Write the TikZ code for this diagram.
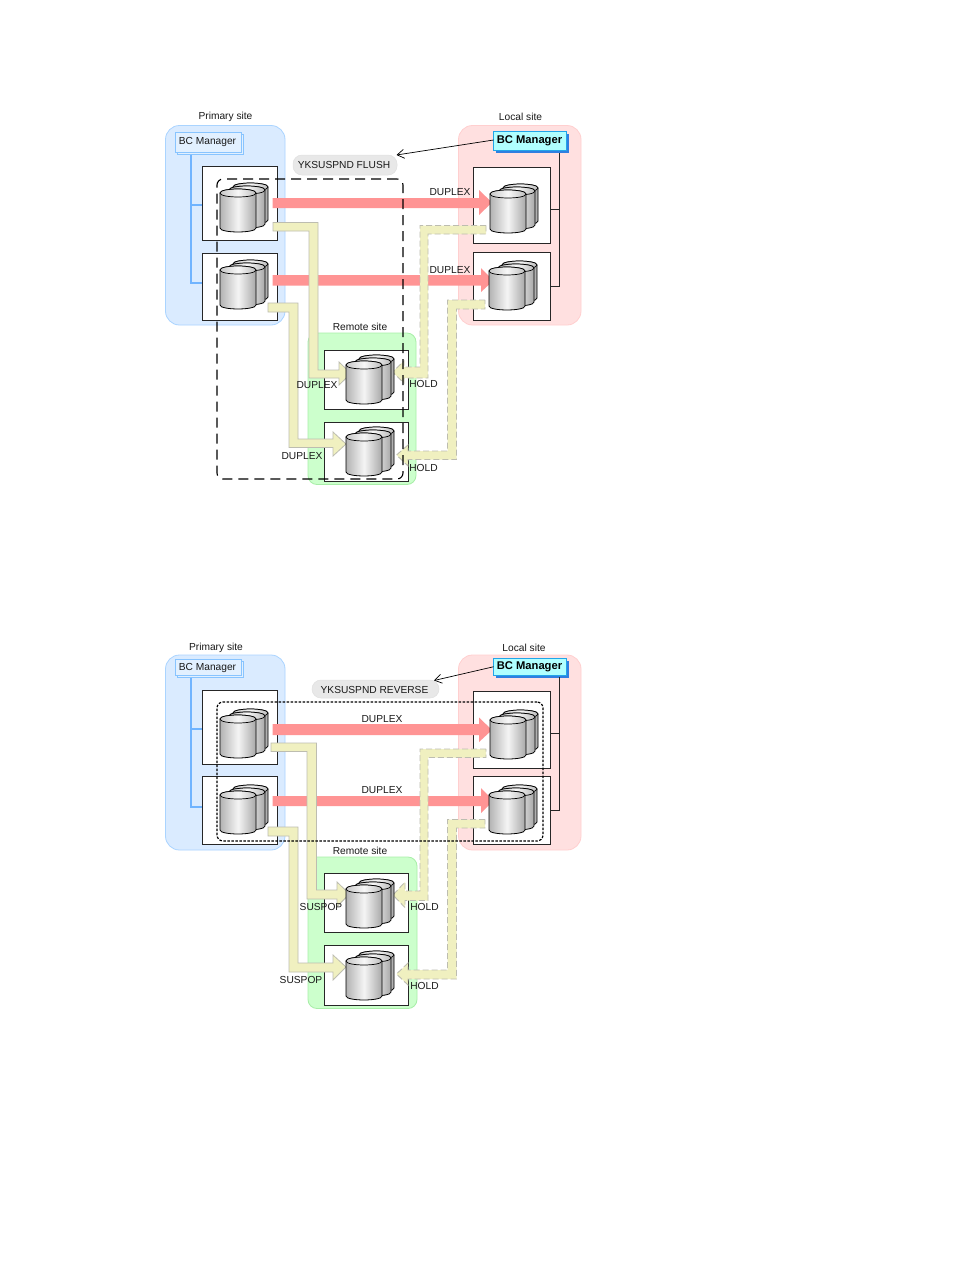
\documentclass[tikz,border=0pt]{standalone}
\usepackage{fontspec}
\setmainfont{Liberation Sans}
\usetikzlibrary{arrows.meta}
\definecolor{bluefill}{HTML}{DAEBFF}
\definecolor{blueedge}{HTML}{AAD4FF}
\definecolor{pinkfill}{HTML}{FFE0E0}
\definecolor{pinkedge}{HTML}{FFCFCF}
\definecolor{greenfill}{HTML}{CCFFCC}
\definecolor{greenedge}{HTML}{A8EEA8}
\definecolor{pinkarrow}{HTML}{FF9494}
\definecolor{yellowfill}{HTML}{F0F0C0}
\definecolor{yellowedge}{HTML}{BDBDB0}
\definecolor{pillfill}{HTML}{E8E8E8}
\definecolor{mgrfill}{HTML}{E2F0FF}
\definecolor{mgredge}{HTML}{88C4FF}
\definecolor{cyanfill}{HTML}{B0FFFF}
\definecolor{cyanshadow}{HTML}{2F7FE0}
\definecolor{bluelinkc}{HTML}{70B4FF}
\tikzset{
  region/.style={draw,line width=.8pt,rounded corners=14pt,inner sep=0pt,outer sep=0pt},
  bluereg/.style={region,fill=bluefill,draw=blueedge},
  pinkreg/.style={region,fill=pinkfill,draw=pinkedge},
  greenreg/.style={region,fill=greenfill,draw=greenedge,rounded corners=9pt},
  hostbox/.style={draw=black!85,fill=white,line width=.9pt,inner sep=0pt,outer sep=0pt},
  flushframe/.style={draw=black,line width=1.1pt,dash pattern=on 10pt off 6pt,rounded corners=6pt,inner sep=0pt,outer sep=0pt},
  reverseframe/.style={draw=black,line width=1.2pt,dash pattern=on 2.5pt off 1.5pt,rounded corners=6pt,inner sep=0pt,outer sep=0pt},
  pillbox/.style={fill=pillfill,draw=black!12,line width=.5pt,rounded corners=9pt,inner sep=0pt,outer sep=0pt},
  mgrbox/.style={fill=mgrfill,draw=mgredge,line width=.9pt,inner sep=0pt,outer sep=0pt},
  mgrshadow/.style={fill=mgrfill,draw=mgredge,line width=.9pt},
  cyanbox/.style={fill=cyanfill,draw=cyanshadow!70!cyan,line width=.9pt,inner sep=0pt,outer sep=0pt},
  cyanback/.style={fill=cyanshadow,draw=none},
  bluelink/.style={draw=bluelinkc,line width=1.3pt},
  blacklink/.style={draw=black!85,line width=.8pt},
  barb/.style={draw=black,line width=.7pt,-{Straight Barb[length=7pt,width=9pt]}},
  pinkflow/.style={fill=pinkarrow,draw=none},
  yellowflow/.style={fill=yellowfill,draw=yellowedge,line width=.8pt},
  yellowdash/.style={fill=yellowfill,draw=yellowedge,line width=.9pt,dash pattern=on 6pt off 3pt},
  lbl/.style={font=\fontsize{10.2pt}{11pt}\selectfont,text=black!90,inner sep=0pt},
  mgrlbl/.style={font=\fontsize{11.2pt}{12pt}\selectfont\bfseries,text=black,inner sep=0pt},
  cylbody/.style={draw=black,line width=.8pt,left color=black!30,right color=black!34,middle color=black!4},
  cyltop/.style={draw=black,line width=.7pt,left color=black!22,right color=black!26,middle color=black!3},
}
% \onecyl{x0}{x1}{top}{bottom}
\newcommand{\onecyl}[4]{%
  \pgfmathsetmacro{\cya}{#3+4}\pgfmathsetmacro{\cyb}{#4-4}%
  \pgfmathsetmacro{\cka}{#3+4-5.3}\pgfmathsetmacro{\ckb}{#3+4+5.3}\pgfmathsetmacro{\ckc}{#4-4+5.3}%
  \path[cylbody] (#1,\cya) -- (#1,\cyb) .. controls (#1,\ckc) and (#2,\ckc) .. (#2,\cyb) -- (#2,\cya) .. controls (#2,\cka) and (#1,\cka) .. (#1,\cya) -- cycle;
  \path[cyltop] (#1,\cya) .. controls (#1,\cka) and (#2,\cka) .. (#2,\cya) .. controls (#2,\ckb) and (#1,\ckb) .. (#1,\cya) -- cycle;
}
% \diskstack{left}{top}
\newcommand{\diskstack}[2]{%
  \pgfmathsetmacro{\sxa}{#1+13}\pgfmathsetmacro{\sxb}{#1+48}\pgfmathsetmacro{\sta}{#2-7}\pgfmathsetmacro{\stb}{#2+34}%
  \edef\dsa{\sxa}\edef\dsb{\sxb}\edef\dsc{\sta}\edef\dsd{\stb}\onecyl{\dsa}{\dsb}{\dsc}{\dsd}%
  \pgfmathsetmacro{\sxc}{#1+9}\pgfmathsetmacro{\sxd}{#1+45}\pgfmathsetmacro{\stc}{#2-4}\pgfmathsetmacro{\std}{#2+38}%
  \edef\dsa{\sxc}\edef\dsb{\sxd}\edef\dsc{\stc}\edef\dsd{\std}\onecyl{\dsa}{\dsb}{\dsc}{\dsd}%
  \pgfmathsetmacro{\sxf}{#1+36}\pgfmathsetmacro{\stf}{#2+42}\pgfmathsetmacro{\stg}{#2-1}%
  \edef\dsb{\sxf}\edef\dsc{\stg}\edef\dsd{\stf}\onecyl{#1}{\dsb}{\dsc}{\dsd}%
}
% \areabox{name}{style}{x0}{y0}{x1}{y1}
\newcommand{\areabox}[6]{%
  \pgfmathsetmacro{\abw}{#5-#3}\pgfmathsetmacro{\abh}{#6-#4}%
  \node[#2,anchor=north west,minimum width=\abw pt,minimum height=\abh pt] (#1) at (#3,#4) {};
}
\begin{document}
\begin{tikzpicture}[x=1pt,y=-1pt]
\useasboundingbox (0,0) rectangle (954,1270);
\fill[white] (0,0) rectangle (954,1270);

% ===== upper diagram: site regions
\areabox{primA}{bluereg}{165.5}{125.5}{285}{325}
\areabox{localA}{pinkreg}{458.5}{125.5}{581}{325}
\areabox{remoteA}{greenreg}{308}{333}{416}{484.5}

% host boxes
\areabox{hostA1}{hostbox}{202}{166}{277}{240}
\areabox{hostA2}{hostbox}{202}{253}{277}{320.5}
\areabox{hostA3}{hostbox}{473.5}{167}{550}{243.5}
\areabox{hostA4}{hostbox}{473.5}{252}{550}{320}
\areabox{hostA5}{hostbox}{324}{350}{408}{409}
\areabox{hostA6}{hostbox}{324}{422}{408}{481.5}

% BC Manager boxes
\path[mgrshadow] (177,134) rectangle (243,154);
\areabox{mgrA}{mgrbox}{175}{132}{241}{152}
\fill[cyanback] (496,134) rectangle (569,153);
\areabox{cmgrA}{cyanbox}{493.5}{131.5}{566}{150.5}

% manager links
\coordinate (ja1) at (191,205);
\coordinate (ja2) at (191,283);
\coordinate (jb1) at (559,209);
\coordinate (jb2) at (559,286);
\draw[bluelink] (191,154.5) -- (ja2) -- (ja2 -| hostA2.west);
\draw[bluelink] (ja1) -- (ja1 -| hostA1.west);
\draw[blacklink] (559,153) -- (jb2) -- (jb2 -| hostA4.east);
\draw[blacklink] (jb1) -- (jb1 -| hostA3.east);

% pill
\areabox{pillA}{pillbox}{293}{155}{397}{175}
\coordinate (pillAtip) at (396.5,155);
\draw[barb] (cmgrA.west) ++(0,-1) -- (pillAtip);

% pink flows
\fill[pinkflow] (272.5,198) -- (479,198) -- (479,190) -- (492,202.5) -- (479,215) -- (479,208) -- (272.5,208) -- cycle;
\fill[pinkflow] (272.5,275) -- (481,275) -- (481,268) -- (493.5,280.5) -- (481,292) -- (481,285.5) -- (272.5,285.5) -- cycle;

% yellow flows
\path[yellowflow] (273,222.5) -- (318,222.5) -- (318,370) -- (339,370) -- (339,362) -- (351,373.5) -- (339,385) -- (339,378) -- (309,378) -- (309,231) -- (273,231) -- cycle;
\path[yellowflow] (268,303) -- (298,303) -- (298,439) -- (333,439) -- (333,432) -- (346,444) -- (333,456) -- (333,447.5) -- (289,447.5) -- (289,312) -- (268,312) -- cycle;
\path[yellowdash] (486,225.5) -- (420,225.5) -- (420,367) -- (404,367) -- (404,361) -- (392.5,372) -- (404,383) -- (404,378) -- (428,378) -- (428,234) -- (486,234) -- cycle;
\path[yellowdash] (485,300) -- (447.5,300) -- (447.5,451) -- (408,451) -- (408,445) -- (396.5,455) -- (408,466) -- (408,459.5) -- (456.5,459.5) -- (456.5,309) -- (485,309) -- cycle;

% disks
\diskstack{220}{190}
\diskstack{220}{267}
\diskstack{490}{191}
\diskstack{489}{268}
\diskstack{346}{362}
\diskstack{346}{434}

% dashed frame
\areabox{frameA}{flushframe}{217}{179}{403}{479}

% texts
\node[lbl] (tPrimA) at (225.5,116.5) {Primary site};
\node[lbl] (tLocalA) at (520.5,116.5) {Local site};
\node[lbl] (tRemoteA) at (360,327) {Remote site};
\node[lbl] (tMgrA) at (207.5,141.5) {BC Manager};
\node[mgrlbl] (tCMgrA) at (529.5,140.5) {BC Manager};
\node[lbl] (tPillA) at (344,164.5) {YKSUSPND FLUSH};
\node[lbl] (tDa) at (450,192) {DUPLEX};
\node[lbl] (tDb) at (450,270) {DUPLEX};
\node[lbl] (tDc) at (317,385) {DUPLEX};
\node[lbl] (tDd) at (302,456) {DUPLEX};
\node[lbl] (tHa) at (423.5,383.5) {HOLD};
\node[lbl] (tHb) at (423.5,467.5) {HOLD};

% ===== lower diagram: site regions
\areabox{primB}{bluereg}{165.5}{655}{285}{850}
\areabox{localB}{pinkreg}{458.5}{655}{581}{850}
\areabox{remoteB}{greenreg}{308}{857}{417}{1008.5}

\areabox{hostB1}{hostbox}{202}{690.5}{277}{764.5}
\areabox{hostB2}{hostbox}{202}{776.5}{277}{844}
\areabox{hostB3}{hostbox}{473.5}{691.5}{550}{768}
\areabox{hostB4}{hostbox}{473.5}{776}{550}{844}
\areabox{hostB5}{hostbox}{324}{873.5}{408}{932.5}
\areabox{hostB6}{hostbox}{324}{945}{408}{1005}

\path[mgrshadow] (177,661) rectangle (243,677.5);
\areabox{mgrB}{mgrbox}{175}{659}{241}{675.5}
\fill[cyanback] (496,661) rectangle (569,677.5);
\areabox{cmgrB}{cyanbox}{493.5}{658.5}{566}{675}

\coordinate (jc1) at (191,729);
\coordinate (jc2) at (191,807);
\coordinate (jd1) at (559,733);
\coordinate (jd2) at (559,810);
\draw[bluelink] (191,678) -- (jc2) -- (jc2 -| hostB2.west);
\draw[bluelink] (jc1) -- (jc1 -| hostB1.west);
\draw[blacklink] (559,677) -- (jd2) -- (jd2 -| hostB4.east);
\draw[blacklink] (jd1) -- (jd1 -| hostB3.east);

\areabox{pillB}{pillbox}{312}{680}{439}{698}
\coordinate (pillBtip) at (434,680.5);
\draw[barb] (cmgrB.west) -- (pillBtip);

\fill[pinkflow] (272.5,724) -- (479,724) -- (479,717.5) -- (492,730) -- (479,742) -- (479,735) -- (272.5,735) -- cycle;
\fill[pinkflow] (272.5,796) -- (481,796) -- (481,788) -- (493.5,800.5) -- (481,813) -- (481,806) -- (272.5,806) -- cycle;

\path[yellowflow] (271,743) -- (316.5,743) -- (316.5,890) -- (337,890) -- (337,882) -- (349.5,894) -- (337,906.5) -- (337,899) -- (307,899) -- (307,751.5) -- (271,751.5) -- cycle;
\path[yellowflow] (268,827) -- (298,827) -- (298,963) -- (333,963) -- (333,955) -- (346,967) -- (333,980) -- (333,972) -- (289,972) -- (289,836) -- (268,836) -- cycle;
\path[yellowdash] (486,749) -- (420,749) -- (420,891) -- (405,891) -- (405,882) -- (393,895) -- (405,907.5) -- (405,900.5) -- (428,900.5) -- (428,757.5) -- (486,757.5) -- cycle;
\path[yellowdash] (485,819.5) -- (447.5,819.5) -- (447.5,970) -- (408,970) -- (408,963) -- (396.5,974) -- (408,985) -- (408,979) -- (456.5,979) -- (456.5,828) -- (485,828) -- cycle;

\diskstack{220}{716}
\diskstack{220}{792}
\diskstack{490}{717}
\diskstack{489}{792}
\diskstack{346}{886}
\diskstack{346}{958}

\areabox{frameB}{reverseframe}{217}{702}{543}{841}

\node[lbl] (tPrimB) at (216,647.5) {Primary site};
\node[lbl] (tLocalB) at (524,647.5) {Local site};
\node[lbl] (tRemoteB) at (360,851) {Remote site};
\node[lbl] (tMgrB) at (207.5,667.5) {BC Manager};
\node[mgrlbl] (tCMgrB) at (529.5,666.5) {BC Manager};
\node[lbl] (tPillB) at (374.5,689.5) {YKSUSPND REVERSE};
\node[lbl] (tDe) at (382,719.5) {DUPLEX};
\node[lbl] (tDf) at (382,790.5) {DUPLEX};
\node[lbl] (tSa) at (321,907) {SUSPOP};
\node[lbl] (tSb) at (301,980) {SUSPOP};
\node[lbl] (tHc) at (424.5,907) {HOLD};
\node[lbl] (tHd) at (424.5,985.5) {HOLD};
\end{tikzpicture}
\end{document}
